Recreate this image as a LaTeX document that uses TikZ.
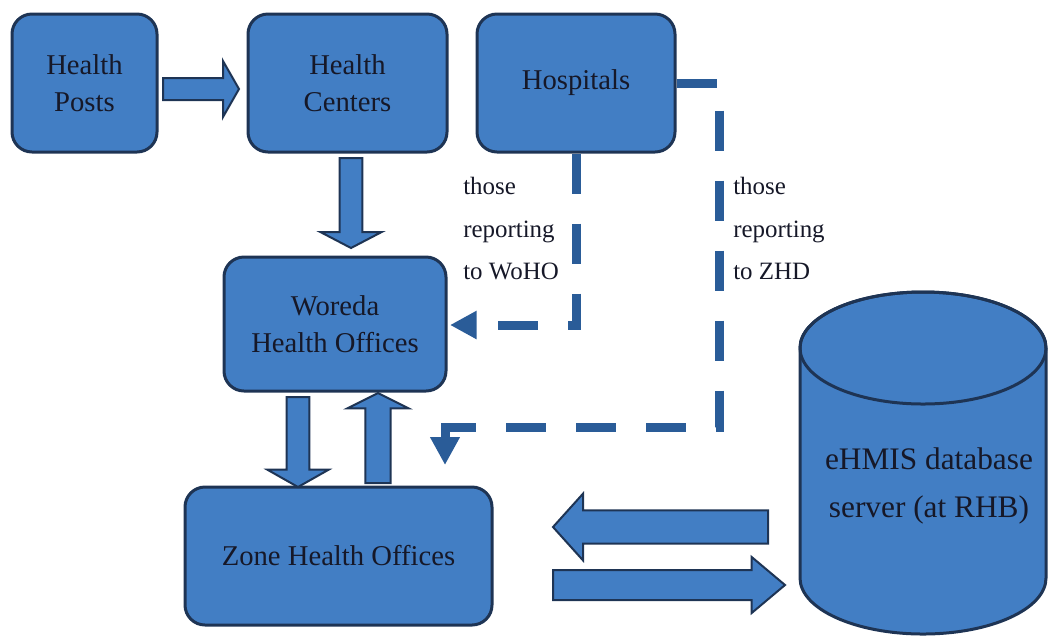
\documentclass[tikz,border=0pt]{standalone}
\usepackage{fontspec}
\setmainfont{Liberation Serif}
\usetikzlibrary{arrows.meta,calc}
\definecolor{boxfill}{RGB}{66,126,196}
\definecolor{boxline}{RGB}{30,52,84}
\definecolor{flow}{RGB}{42,92,152}
\definecolor{ink}{RGB}{22,24,40}

% block arrow: start, end, shaft half-width, head half-width, head length
\newcommand\blockarrow[5]{%
  \coordinate (ab) at ($(#2)!#5!(#1)$);
  \filldraw[fill=boxfill, draw=boxline, line width=1.5pt, line join=miter]
    ($(#1)!#3!90:(#2)$) -- ($(ab)!#3!90:(#2)$) -- ($(ab)!#4!90:(#2)$) -- (#2)
    -- ($(ab)!#4!-90:(#2)$) -- ($(ab)!#3!-90:(#2)$) -- ($(#1)!#3!-90:(#2)$) -- cycle;
}

\begin{document}
\begin{tikzpicture}[x=0.75pt,y=-0.75pt,
  unitbox/.style={draw=boxline, line width=2.25pt, fill=boxfill, rounded corners=15pt,
    inner sep=0pt, text=ink, align=center, font=\fontsize{21.5}{28}\selectfont},
  report/.style={draw=flow, line width=6.75pt, dash pattern=on 30pt off 22.5pt},
  note/.style={text=ink, align=left, font=\fontsize{18.7}{32}\selectfont, inner sep=0pt}
]
\useasboundingbox (0,0) rectangle (1048,637);
\clip (0,0) rectangle (1048,637);

% facility boxes
\node[unitbox, minimum width=108.75pt, minimum height=103.5pt] (hp) at (84.5,83) {Health\\Posts};
\node[unitbox, minimum width=149.25pt, minimum height=103.5pt] (hc) at (347.5,83) {Health\\Centers};
\node[unitbox, minimum width=148.5pt, minimum height=103.5pt] (hosp) at (576,83) {Hospitals};
\node[unitbox, minimum width=166.5pt, minimum height=100.5pt] (woho) at (335,324) {Woreda\\Health Offices};
\node[unitbox, minimum width=230.25pt, minimum height=103.5pt] (zho) at (338.5,556) {Zone Health Offices};

% database cylinder
\filldraw[draw=boxline, fill=boxfill, line width=2.25pt]
  (800,348) -- (800,578) arc[start angle=180, end angle=360, x radius=92.25pt, y radius=42pt]
  -- (1046,348) arc[start angle=0, end angle=180, x radius=92.25pt, y radius=42pt] -- cycle;
\draw[draw=boxline, line width=2.25pt] (923,348) ellipse[x radius=92.25pt, y radius=42pt];
\node[text=ink, align=center, font=\fontsize{23.5}{36}\selectfont] (db) at (929,486) {eHMIS database\\server (at RHB)};

% block arrows
\coordinate (a1s) at (163,89);  \coordinate (a1e) at (239,89);
\coordinate (a2s) at (351,158); \coordinate (a2e) at (351,248);
\coordinate (a3s) at (298,397); \coordinate (a3e) at (298,487);
\coordinate (a4s) at (378,483); \coordinate (a4e) at (378,393);
\coordinate (a5s) at (768,527); \coordinate (a5e) at (553,527);
\coordinate (a6s) at (553,585); \coordinate (a6e) at (785,585);
\blockarrow{a1s}{a1e}{8.25pt}{21pt}{12pt}
\blockarrow{a2s}{a2e}{8.6pt}{23pt}{12pt}
\blockarrow{a3s}{a3e}{8.6pt}{23pt}{13pt}
\blockarrow{a4s}{a4e}{9.4pt}{23pt}{11.5pt}
\blockarrow{a5s}{a5e}{12.4pt}{25pt}{22.5pt}
\blockarrow{a6s}{a6e}{11.25pt}{21pt}{25pt}

% hospital reporting lines
\coordinate (w1) at (450,325);
\draw[report, -{Triangle[length=20pt, width=20pt]}] (hosp.south) |- (w1);
\coordinate (z1) at (719,83);
\coordinate (z2) at (719,427);
\coordinate (z3) at (445,427);
\coordinate (z4) at (445,465);
\draw[report, -{Triangle[length=21pt, width=21pt]}] (hosp.east) -- (z1) -- (z2) -- (z3) -- (z4);

\node[note, anchor=north west] (l1) at (463,177) {those\\reporting\\to WoHO};
\node[note, anchor=north west] (l2) at (733,177) {those\\reporting\\to ZHD};
\end{tikzpicture}
\end{document}
